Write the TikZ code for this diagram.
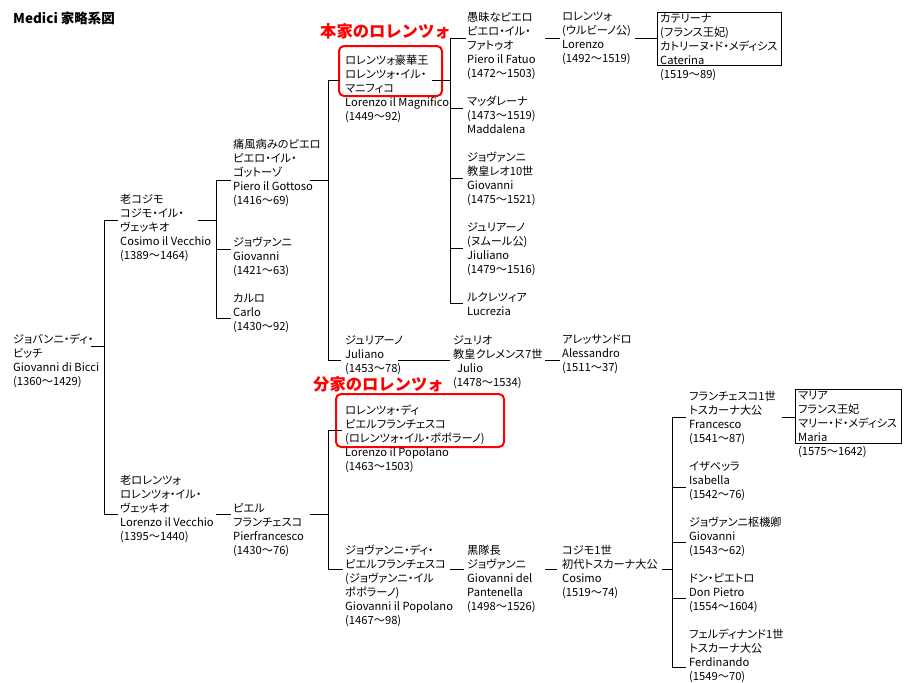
\documentclass[tikz,border=0pt]{standalone}
\usepackage{fontspec}
\setmainfont{Noto Sans CJK JP}[RawFeature={+palt}]
\newfontfamily\lblfont{Noto Sans CJK JP}
\tikzset{
  person/.style={anchor=north west, inner sep=0pt, align=left,
    font=\fontsize{11.2}{14}\selectfont, execute at begin node=\rule{0pt}{10pt}},
  conn/.style={draw=black, line width=1pt},
  famlabel/.style={text=red, font=\lblfont\bfseries\fontsize{16.3}{17}\selectfont, anchor=west, inner sep=0pt},
  titlestyle/.style={font=\lblfont\bfseries\fontsize{13.5}{14}\selectfont, anchor=west, inner sep=0pt},
  redbox/.style={draw=red, line width=2pt, rounded corners=5pt},
  blackbox/.style={draw=black, line width=1pt}
}
\begin{document}
\begin{tikzpicture}[x=1pt,y=-1pt]
\fill[white] (0,0) rectangle (911,683);
\useasboundingbox (0,0) rectangle (911,683);

\node[titlestyle] (title) at (13,18) {Medici 家略系図};
\node[famlabel] (honke) at (320,31) {本家のロレンツォ};
\node[famlabel] (bunke) at (313,384) {分家のロレンツォ};

% boxes
\draw[redbox] (339,46) rectangle (442,96);
\draw[redbox] (336,394) rectangle (504,447);
\draw[blackbox] (657,12) rectangle (781,65);
\draw[blackbox] (795,389) rectangle (901,443);

% persons
\node[person] (gb) at (13,334) {ジョバンニ・ディ・\\ビッチ\\Giovanni di Bicci\\(1360〜1429)};
\node[person] (cv) at (120,194) {老コジモ\\コジモ・イル・\\ヴェッキオ\\Cosimo il Vecchio\\(1389〜1464)};
\node[person] (lv) at (120,475) {老ロレンツォ\\ロレンツォ・イル・\\ヴェッキオ\\Lorenzo il Vecchio\\(1395〜1440)};
\node[person] (pg) at (233,139) {痛風病みのピエロ\\ピエロ・イル・\\ゴットーゾ\\Piero il Gottoso\\(1416〜69)};
\node[person] (gi) at (233,237) {ジョヴァンニ\\Giovanni\\(1421〜63)};
\node[person] (ca) at (233,293) {カルロ\\Carlo\\(1430〜92)};
\node[person] (pf) at (233,503) {ピエル\\フランチェスコ\\Pierfrancesco\\(1430〜76)};
\node[person] (lm) at (345,55) {ロレンツォ豪華王\\ロレンツォ・イル・\\マニフィコ\\Lorenzo il Magnifico\\(1449〜92)};
\node[person] (ju) at (345,335) {ジュリアーノ\\Juliano\\(1453〜78)};
\node[person] (lp) at (345,405) {ロレンツォ・ディ\\ピエルフランチェスコ\\(ロレンツォ・イル・ポポラーノ)\\Lorenzo il Popolano\\(1463〜1503)};
\node[person] (gp) at (345,545) {ジョヴァンニ・ディ・\\ピエルフランチェスコ\\(ジョヴァンニ・イル\\ポポラーノ)\\Giovanni il Popolano\\(1467〜98)};
\node[person] (pfa) at (467,12) {愚昧なピエロ\\ピエロ・イル・\\ファトゥオ\\Piero il Fatuo\\(1472〜1503)};
\node[person] (ma) at (467,96) {マッダレーナ\\(1473〜1519)\\Maddalena};
\node[person] (gl) at (467,152) {ジョヴァンニ\\教皇レオ10世\\Giovanni\\(1475〜1521)};
\node[person] (jn) at (467,222) {ジュリアーノ\\(ヌムール公)\\Jiuliano\\(1479〜1516)};
\node[person] (lu) at (467,292) {ルクレツィア\\Lucrezia};
\node[person] (jl) at (453,335) {ジュリオ\\教皇クレメンス7世\\\hspace{4pt}Julio\\(1478〜1534)};
\node[person] (gd) at (467,545) {黒隊長\\ジョヴァンニ\\Giovanni del\\Pantenella\\(1498〜1526)};
\node[person] (lu2) at (562,12) {ロレンツォ\\(ウルビーノ公)\\Lorenzo\\(1492〜1519)};
\node[person] (al) at (562,335) {アレッサンドロ\\Alessandro\\(1511〜37)};
\node[person] (c1) at (562,545) {コジモ1世\\初代トスカーナ大公\\Cosimo\\(1519〜74)};
\node[person] (cat) at (660,13) {カテリーナ\\(フランス王妃)\\カトリーヌ・ド・メディシス\\Caterina\\(1519〜89)};
\node[person] (fr) at (689,391) {フランチェスコ1世\\トスカーナ大公\\Francesco\\(1541〜87)};
\node[person] (is) at (689,461) {イザベッラ\\Isabella\\(1542〜76)};
\node[person] (gc) at (689,517) {ジョヴァンニ枢機卿\\Giovanni\\(1543〜62)};
\node[person] (dp) at (689,573) {ドン・ピエトロ\\Don Pietro\\(1554〜1604)};
\node[person] (fe) at (689,629) {フェルディナンド1世\\トスカーナ大公\\Ferdinando\\(1549〜70)};
\node[person] (mr) at (798,391) {マリア\\フランス王妃\\マリー・ド・メディシス\\Maria\\(1575〜1642)};

% junction coordinates
\coordinate (gbR) at (91,346);
\coordinate (b1t) at (104,220); \coordinate (b1b) at (104,514);
\coordinate (cvL) at (118,220); \coordinate (lvL) at (118,514);
\coordinate (cvR) at (198,220);
\coordinate (b2t) at (216,180); \coordinate (b2b) at (216,318);
\coordinate (pgL) at (231,180); \coordinate (giL) at (231,249); \coordinate (caL) at (231,318);
\coordinate (lvR) at (216,514); \coordinate (pfL) at (231,514);
\coordinate (pgR) at (310,180);
\coordinate (b3t) at (328,80); \coordinate (b3b) at (328,360);
\coordinate (lmL) at (340,80); \coordinate (juL) at (341,360);
\coordinate (pfR) at (310,514);
\coordinate (b4t) at (328,430); \coordinate (b4b) at (328,569);
\coordinate (lpL) at (342,430); \coordinate (gpL) at (343,569);
\coordinate (lmR) at (432,80);
\coordinate (b5t) at (450,38); \coordinate (b5b) at (450,303);
\coordinate (pfaL) at (466,38); \coordinate (maL) at (463,108); \coordinate (glL) at (463,178);
\coordinate (jnL) at (463,248); \coordinate (luL) at (463,303);
\coordinate (pfaR) at (545,38); \coordinate (lu2L) at (560,38);
\coordinate (lu2R) at (635,38); \coordinate (catL) at (657,38);
\coordinate (juR) at (398,360); \coordinate (jlL) at (450,360);
\coordinate (jlR) at (545,360); \coordinate (alL) at (560,360);
\coordinate (gpR) at (450,569); \coordinate (gdL) at (464,569);
\coordinate (gdR) at (545,569); \coordinate (c1L) at (557,569);
\coordinate (c1R) at (662,569);
\coordinate (b6t) at (672,417); \coordinate (b6b) at (672,667);
\coordinate (frL) at (686,417); \coordinate (isL) at (686,487); \coordinate (gcL) at (686,542);
\coordinate (dpL) at (686,598); \coordinate (feL) at (686,667);
\coordinate (frR) at (782,417); \coordinate (mrL) at (795,417);

% connectors
\draw[conn] (b1t) -- (b1b);
\draw[conn] (gbR) -- (gbR -| b1t);
\draw[conn] (b1t) -- (cvL);
\draw[conn] (b1b) -- (lvL);
\draw[conn] (b2t) -- (b2b);
\draw[conn] (cvR) -- (cvR -| b2t);
\draw[conn] (b2t) -- (pgL);
\draw[conn] (giL -| b2t) -- (giL);
\draw[conn] (b2b) -- (caL);
\draw[conn] (lvR) -- (pfL);
\draw[conn] (b3t) -- (b3b);
\draw[conn] (pgR) -- (pgR -| b3t);
\draw[conn] (b3t) -- (lmL);
\draw[conn] (b3b) -- (juL);
\draw[conn] (b4t) -- (b4b);
\draw[conn] (pfR) -- (pfR -| b4t);
\draw[conn] (b4t) -- (lpL);
\draw[conn] (b4b) -- (gpL);
\draw[conn] (b5t) -- (b5b);
\draw[conn] (lmR) -- (lmR -| b5t);
\draw[conn] (b5t) -- (pfaL);
\draw[conn] (maL -| b5t) -- (maL);
\draw[conn] (glL -| b5t) -- (glL);
\draw[conn] (jnL -| b5t) -- (jnL);
\draw[conn] (b5b) -- (luL);
\draw[conn] (pfaR) -- (lu2L);
\draw[conn] (lu2R) -- (catL);
\draw[conn] (juR) -- (jlL);
\draw[conn] (jlR) -- (alL);
\draw[conn] (gpR) -- (gdL);
\draw[conn] (gdR) -- (c1L);
\draw[conn] (b6t) -- (b6b);
\draw[conn] (c1R) -- (c1R -| b6t);
\draw[conn] (b6t) -- (frL);
\draw[conn] (isL -| b6t) -- (isL);
\draw[conn] (gcL -| b6t) -- (gcL);
\draw[conn] (dpL -| b6t) -- (dpL);
\draw[conn] (b6b) -- (feL);
\draw[conn] (frR) -- (mrL);
\end{tikzpicture}
\end{document}
